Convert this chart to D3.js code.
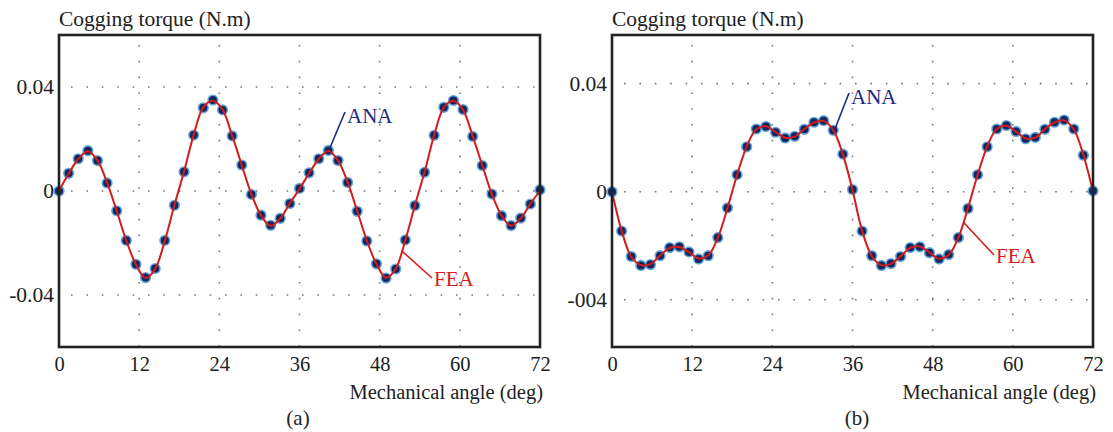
<!DOCTYPE html>
<html>
<head>
<meta charset="utf-8">
<script src="https://cdn.jsdelivr.net/npm/d3@7"></script>
<style>
  body { margin: 0; background: #fff; }
  svg text { font-family: "Liberation Serif", "DejaVu Serif", serif; fill: #222; }
</style>
</head>
<body>
<script>
// mechanical angle samples (deg)
var angles = [0, 1.44, 2.88, 4.32, 5.76, 7.2, 8.64, 10.08, 11.52, 12.96, 14.4, 15.84, 17.28, 18.72, 20.16, 21.6, 23.04, 24.48, 25.92, 27.36, 28.8, 30.24, 31.68, 33.12, 34.56, 36,
  37.44, 38.88, 40.32, 41.76, 43.2, 44.64, 46.08, 47.52, 48.96, 50.4, 51.84, 53.28, 54.72, 56.16, 57.6, 59.04, 60.48, 61.92, 63.36, 64.8, 66.24, 67.68, 69.12, 70.56, 72];

// panel (a)
var anaA = [0, 0.0068, 0.0124, 0.0155, 0.0117, 0.0031, -0.0076, -0.0190, -0.0282, -0.0333, -0.0298, -0.0190, -0.0055, 0.0074, 0.0215, 0.0320, 0.0350, 0.0312, 0.0212, 0.0100, -0.0013, -0.0093, -0.0132, -0.0105, -0.0048, 0.0010,
  0.0070, 0.0124, 0.0156, 0.0117, 0.0033, -0.0078, -0.0192, -0.0280, -0.0335, -0.0300, -0.0188, -0.0056, 0.0072, 0.0214, 0.0322, 0.0348, 0.0313, 0.0210, 0.0098, -0.0012, -0.0095, -0.0133, -0.0104, -0.0050, 0.0005];
var feaA = [0, 0.0066, 0.0123, 0.0153, 0.0118, 0.0032, -0.0077, -0.0191, -0.0283, -0.0335, -0.0299, -0.0191, -0.0054, 0.0075, 0.0216, 0.0322, 0.0347, 0.0313, 0.0213, 0.0099, -0.0012, -0.0094, -0.0134, -0.0106, -0.0047, 0.0008,
  0.0068, 0.0123, 0.0154, 0.0118, 0.0034, -0.0077, -0.0191, -0.0281, -0.0334, -0.0299, -0.0189, -0.0055, 0.0073, 0.0215, 0.0321, 0.0347, 0.0312, 0.0211, 0.0099, -0.0013, -0.0094, -0.0134, -0.0105, -0.0049, 0];

// panel (b)
var anaB = [0, -0.0146, -0.0240, -0.0273, -0.0270, -0.0237, -0.0207, -0.0204, -0.0223, -0.0249, -0.0237, -0.0170, -0.0060, 0.0063, 0.0166, 0.0232, 0.0241, 0.0220, 0.0199, 0.0205, 0.0231, 0.0257, 0.0263, 0.0227, 0.0139, 0.0008,
  -0.0146, -0.0237, -0.0273, -0.0266, -0.0240, -0.0207, -0.0204, -0.0226, -0.0249, -0.0233, -0.0170, -0.0062, 0.0063, 0.0166, 0.0232, 0.0245, 0.0223, 0.0196, 0.0201, 0.0231, 0.0257, 0.0265, 0.0232, 0.0135, 0.0003];
var feaB = [0, -0.0144, -0.0241, -0.0272, -0.0268, -0.0236, -0.0208, -0.0205, -0.0224, -0.0247, -0.0236, -0.0171, -0.0061, 0.0062, 0.0167, 0.0231, 0.0242, 0.0221, 0.0200, 0.0204, 0.0232, 0.0256, 0.0262, 0.0228, 0.0138, 0.0006,
  -0.0145, -0.0238, -0.0272, -0.0267, -0.0239, -0.0208, -0.0203, -0.0225, -0.0248, -0.0234, -0.0171, -0.0061, 0.0062, 0.0167, 0.0233, 0.0244, 0.0222, 0.0197, 0.0200, 0.0232, 0.0256, 0.0264, 0.0231, 0.0136, 0];

var xTicks = [0, 12, 24, 36, 48, 60, 72];
var xGrid = [12, 24, 36, 48, 60];
var yTicks = [0.04, 0, -0.04];
var yLabelsA = ["0.04", "0", "-0.04"];
var yLabelsB = ["0.04", "0", "-004"];

var svg = d3.select("body").append("svg")
  .attr("width", 1113).attr("height", 432);

var panels = [
  { left: 59, right: 540, top: 35, bottom: 347, ydom: [-0.06, 0.06], ana: anaA, fea: feaA, ylab: yLabelsA,
    tag: "(a)", tagX: 298, anaAt: 40.5, anaText: [347, 123], feaAt: 51.3, feaText: [434, 286] },
  { left: 612, right: 1093, top: 35, bottom: 347, ydom: [-0.0575, 0.058], ana: anaB, fea: feaB, ylab: yLabelsB,
    tag: "(b)", tagX: 857, anaAt: 33.3, anaText: [851, 104], feaAt: 52.6, feaText: [996, 263] }
];

// linear lookup on the sampled series, used to anchor the label leaders
function valueAt(arr, a) {
  var i = d3.bisectLeft(angles, a);
  if (i <= 0) return arr[0];
  var t = (a - angles[i - 1]) / (angles[i] - angles[i - 1]);
  return arr[i - 1] + t * (arr[i] - arr[i - 1]);
}

panels.forEach(function(p) {
  var x = d3.scaleLinear().domain([0, 72]).range([p.left, p.right]);
  var y = d3.scaleLinear().domain(p.ydom).range([p.bottom, p.top]);
  var g = svg.append("g");

  // dotted grid
  g.selectAll(".vg").data(xGrid).enter().append("line")
    .attr("x1", function(d) { return x(d); }).attr("x2", function(d) { return x(d); })
    .attr("y1", p.top + 10).attr("y2", p.bottom)
    .attr("stroke", "#777").attr("stroke-width", 1.6)
    .attr("stroke-dasharray", "1.6,14.2");
  g.selectAll(".hg").data(yTicks).enter().append("line")
    .attr("x1", p.left + 12).attr("x2", p.right)
    .attr("y1", function(d) { return y(d); }).attr("y2", function(d) { return y(d); })
    .attr("stroke", "#777").attr("stroke-width", 1.6)
    .attr("stroke-dasharray", "1.6,13.8");

  // markers (ANA)
  var pts = angles.map(function(a, i) { return [a, p.ana[i]]; });
  g.selectAll(".halo").data(pts).enter().append("circle")
    .attr("cx", function(d) { return x(d[0]); }).attr("cy", function(d) { return y(d[1]); })
    .attr("r", 5.6).attr("fill", "#3f8fcc").attr("opacity", 0.8);
  g.selectAll(".dot").data(pts).enter().append("circle")
    .attr("cx", function(d) { return x(d[0]); }).attr("cy", function(d) { return y(d[1]); })
    .attr("r", 4).attr("fill", "#14265e");

  // FEA line
  var line = d3.line()
    .x(function(d) { return x(d[0]); })
    .y(function(d) { return y(d[1]); })
    .curve(d3.curveCatmullRom);
  g.append("path")
    .datum(angles.map(function(a, i) { return [a, p.fea[i]]; }))
    .attr("d", line)
    .attr("fill", "none").attr("stroke", "#d41c1c").attr("stroke-width", 2);

  // frame
  g.append("rect")
    .attr("x", p.left).attr("y", p.top)
    .attr("width", p.right - p.left).attr("height", p.bottom - p.top)
    .attr("fill", "none").attr("stroke", "#222").attr("stroke-width", 2.6);

  // axes text
  var xa = d3.axisBottom(x).tickValues(xTicks).tickSize(0).tickPadding(9);
  var xg = g.append("g").attr("transform", "translate(0," + p.bottom + ")").call(xa);
  xg.select(".domain").remove();
  xg.selectAll("text").attr("font-size", 20.5).style("font-family", "Liberation Serif").attr("fill", "#222");

  var ya = d3.axisLeft(y).tickValues(yTicks).tickSize(0).tickPadding(5)
    .tickFormat(function(d, i) { return p.ylab[i]; });
  var yg = g.append("g").attr("transform", "translate(" + p.left + ",0)").call(ya);
  yg.select(".domain").remove();
  yg.selectAll("text").attr("font-size", 21.5).style("font-family", "Liberation Serif").attr("fill", "#222");

  g.append("text").attr("x", p.left).attr("y", 26)
    .attr("font-size", 21.5).text("Cogging torque (N.m)");
  g.append("text").attr("x", p.right + 3).attr("y", 399).attr("text-anchor", "end")
    .attr("font-size", 20.5).text("Mechanical angle (deg)");
  g.append("text").attr("x", p.tagX).attr("y", 425).attr("text-anchor", "middle")
    .attr("font-size", 21).text(p.tag);

  // ANA label with leader
  g.append("line").attr("x1", x(p.anaAt)).attr("y1", y(valueAt(p.ana, p.anaAt)) - 3)
    .attr("x2", p.anaText[0] - 2).attr("y2", p.anaText[1] - 11)
    .attr("stroke", "#1c2a80").attr("stroke-width", 1.6);
  g.append("text").attr("x", p.anaText[0]).attr("y", p.anaText[1])
    .attr("font-size", 21).style("fill", "#1c2a80").text("ANA");

  // FEA label with leader
  g.append("line").attr("x1", x(p.feaAt)).attr("y1", y(valueAt(p.fea, p.feaAt)))
    .attr("x2", p.feaText[0] - 2).attr("y2", p.feaText[1] - 8)
    .attr("stroke", "#d41c1c").attr("stroke-width", 1.6);
  g.append("text").attr("x", p.feaText[0]).attr("y", p.feaText[1])
    .attr("font-size", 21).style("fill", "#d41c1c").text("FEA");
});
</script>
</body>
</html>
